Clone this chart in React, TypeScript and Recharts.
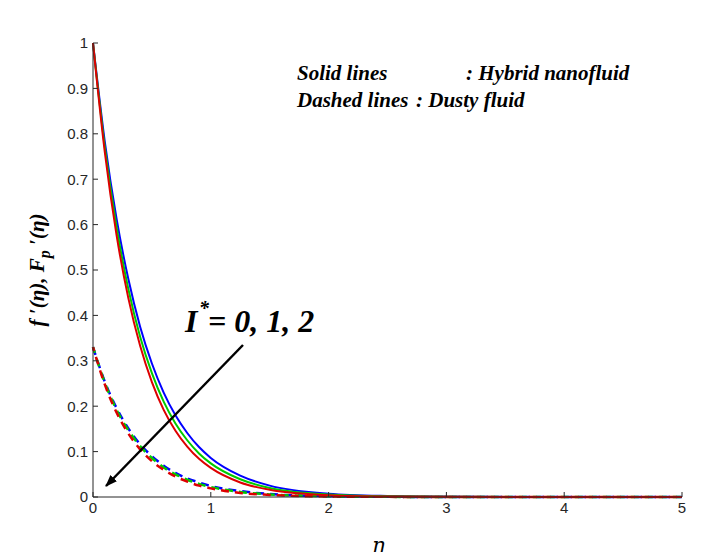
import React from "react";
import { LineChart, Line, XAxis, YAxis } from "recharts";

const eta = [0, 0.1, 0.2, 0.3, 0.4, 0.5, 0.6, 0.7, 0.8, 0.9, 1.0, 1.25, 1.5, 2, 2.5, 3, 4, 5];
const solidBlue = [1, 0.783, 0.613, 0.48, 0.375, 0.294, 0.23, 0.18, 0.141, 0.11, 0.086, 0.047, 0.025, 0.0074, 0.0022, 0.0006, 0, 0];
const solidGreen = [1, 0.771, 0.595, 0.458, 0.353, 0.273, 0.21, 0.162, 0.125, 0.096, 0.074, 0.039, 0.02, 0.0055, 0.0015, 0.0004, 0, 0];
const solidRed = [1, 0.76, 0.577, 0.438, 0.333, 0.253, 0.192, 0.146, 0.111, 0.084, 0.064, 0.032, 0.016, 0.004, 0.001, 0.0003, 0, 0];
const dashBlue = [0.33, 0.254, 0.196, 0.151, 0.116, 0.09, 0.069, 0.053, 0.041, 0.032, 0.024, 0.013, 0.0066, 0.0018, 0.0005, 0, 0, 0];
const dashGreen = [0.33, 0.252, 0.192, 0.147, 0.112, 0.086, 0.065, 0.05, 0.038, 0.029, 0.022, 0.011, 0.0057, 0.0015, 0.0004, 0, 0, 0];
const dashRed = [0.33, 0.248, 0.186, 0.14, 0.105, 0.079, 0.06, 0.045, 0.034, 0.025, 0.019, 0.009, 0.0046, 0.0011, 0.0003, 0, 0, 0];
const xTicks = [0, 1, 2, 3, 4, 5];
const yTicks = [0, 0.1, 0.2, 0.3, 0.4, 0.5, 0.6, 0.7, 0.8, 0.9, 1];

const data = eta.map((x, i) => ({
  x, sb: solidBlue[i], sg: solidGreen[i], sr: solidRed[i],
  db: dashBlue[i], dg: dashGreen[i], dr: dashRed[i],
}));

const tickStyle = { fontFamily: "Liberation Sans, Arial, sans-serif", fontSize: 15, fill: "#262626" };
const serif = "Liberation Serif, Times New Roman, serif";

export default function App() {
  return (
    <div style={{ position: "relative", width: 720, height: 560, margin: -8, background: "#fff" }}>
      <LineChart width={720} height={560} data={data} margin={{ top: 43, right: 38, bottom: 33, left: 53 }}>
        <XAxis dataKey="x" type="number" domain={[0, 5]} ticks={xTicks} height={30} stroke="#262626" tick={tickStyle} tickSize={-5} tickMargin={10} />
        <XAxis xAxisId="top" orientation="top" dataKey="x" type="number" domain={[0, 5]} ticks={xTicks} height={0} stroke="#262626" tick={false} tickSize={-5} />
        <YAxis type="number" domain={[0, 1]} ticks={yTicks} width={40} stroke="#262626" tick={tickStyle} tickSize={-5} tickMargin={10} />
        <YAxis yAxisId="right" orientation="right" type="number" domain={[0, 1]} ticks={yTicks} width={0} stroke="#262626" tick={false} tickSize={-5} />
        <Line dataKey="db" stroke="#0000ff" strokeWidth={2.5} strokeDasharray="8 6" dot={false} isAnimationActive={false} type="monotone" />
        <Line dataKey="dg" stroke="#00cc00" strokeWidth={2.5} strokeDasharray="8 6" strokeDashoffset={2} dot={false} isAnimationActive={false} type="monotone" />
        <Line dataKey="dr" stroke="#dd0000" strokeWidth={2.5} strokeDasharray="8 6" strokeDashoffset={4} dot={false} isAnimationActive={false} type="monotone" />
        <Line dataKey="sb" stroke="#0000ff" strokeWidth={2} dot={false} isAnimationActive={false} type="monotone" />
        <Line dataKey="sg" stroke="#00cc00" strokeWidth={2} dot={false} isAnimationActive={false} type="monotone" />
        <Line dataKey="sr" stroke="#dd0000" strokeWidth={2} dot={false} isAnimationActive={false} type="monotone" />
      </LineChart>
      <svg width={720} height={560} style={{ position: "absolute", left: 0, top: 0, pointerEvents: "none" }}>
        <defs>
          <marker id="ah" markerWidth="12" markerHeight="9" refX="11" refY="4.5" orient="auto" markerUnits="userSpaceOnUse">
            <path d="M0,0 L12,4.5 L0,9 z" fill="#000" />
          </marker>
        </defs>
        <line x1={243} y1={345} x2={106} y2={486} stroke="#000" strokeWidth={2.5} markerEnd="url(#ah)" />
        <g fontFamily={serif} fontStyle="italic" fontWeight="bold" fill="#000">
          <text x={297} y={80} fontSize={21}>Solid lines</text>
          <text x={466} y={80} fontSize={21}>: Hybrid nanofluid</text>
          <text x={297} y={107} fontSize={21}>Dashed lines</text>
          <text x={416} y={107} fontSize={21}>: Dusty fluid</text>
          <text x={185} y={332} fontSize={32}>I</text>
          <text x={199} y={315} fontSize={20}>*</text>
          <text x={208} y={332} fontSize={32}> = 0, 1, 2</text>
          <text x={372} y={552} fontSize={21} fontWeight="normal" fontFamily="DejaVu Serif, serif">η</text>
          <text transform="translate(44,270) rotate(-90)" textAnchor="middle" fontSize={21}>
            f ′(η), F<tspan fontSize={16} dy={6}>p</tspan><tspan dy={-6}> ′(η)</tspan>
          </text>
        </g>
      </svg>
    </div>
  );
}
